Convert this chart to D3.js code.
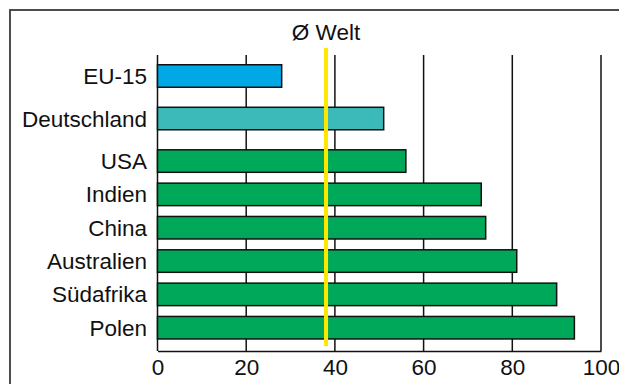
<!DOCTYPE html>
<html>
<head>
<meta charset="utf-8">
<script src="https://cdn.jsdelivr.net/npm/d3@7"></script>
<style>
  html, body { margin: 0; padding: 0; background: #fff; }
  svg { display: block; }
  text { font-family: "Liberation Sans", Arial, sans-serif; fill: #111; }
</style>
</head>
<body>
<svg id="chart" width="619" height="384"></svg>
<script>
// Categories, top to bottom
const categories = ["EU-15", "Deutschland", "USA", "Indien", "China", "Australien", "Südafrika", "Polen"];
// Bar values
const values = [28, 51, 56, 73, 74, 81, 90, 94];
// Group of each bar (drives the fill colour)
const groups = ["eu", "de", "other", "other", "other", "other", "other", "other"];
// World average reference line
const worldAverage = 38;
const worldLabel = "Ø Welt";
// Axis tick values
const ticks = [0, 20, 40, 60, 80, 100];

const colors = { eu: "#00a8e6", de: "#3cb9b9", other: "#00a859" };

const svg = d3.select("#chart");

// Outer frame (runs off the right and bottom edges)
svg.append("rect")
  .attr("x", 10).attr("y", 10)
  .attr("width", 620).attr("height", 390)
  .attr("fill", "none")
  .attr("stroke", "#3a3a3a")
  .attr("stroke-width", 1.8);

const x = d3.scaleLinear().domain([0, 100]).range([157.5, 601]);

// Vertical placement: regular step, with an extra gap after the first two rows
const step = 33.33, extraGap = 9.2, firstCenter = 76, barH = 22.5;
const y = d3.scaleOrdinal()
  .domain(categories)
  .range(categories.map((c, i) => firstCenter + i * step + extraGap * Math.min(i, 2)));

const plotTop = 55, plotBottom = 351;

// Grid lines
svg.append("g")
  .selectAll("line")
  .data(ticks)
  .join("line")
  .attr("x1", d => x(d)).attr("x2", d => x(d))
  .attr("y1", plotTop).attr("y2", plotBottom)
  .attr("stroke", "#111")
  .attr("stroke-width", 1.5);

// Bars
svg.append("g")
  .selectAll("rect")
  .data(categories)
  .join("rect")
  .attr("x", x(0))
  .attr("y", d => y(d) - barH / 2)
  .attr("width", (d, i) => x(values[i]) - x(0))
  .attr("height", barH)
  .attr("fill", (d, i) => colors[groups[i]])
  .attr("stroke", "#111")
  .attr("stroke-width", 1.5);

// Category labels
svg.append("g")
  .selectAll("text")
  .data(categories)
  .join("text")
  .attr("x", x(0) - 10.5)
  .attr("y", d => y(d))
  .attr("dy", "0.36em")
  .attr("text-anchor", "end")
  .attr("font-size", 22.5)
  .text(d => d);

// Bottom axis
const axis = d3.axisBottom(x).tickValues(ticks).tickSize(0).tickPadding(8);
const gx = svg.append("g")
  .attr("transform", `translate(0,${plotBottom})`)
  .call(axis);
gx.select(".domain").attr("stroke", "#111").attr("stroke-width", 1.5);
gx.selectAll("text")
  .attr("font-size", 22.5)
  .attr("font-family", "Liberation Sans, Arial, sans-serif")
  .attr("fill", "#111");

// World average line and label
svg.append("line")
  .attr("x1", x(worldAverage)).attr("x2", x(worldAverage))
  .attr("y1", 48).attr("y2", 346)
  .attr("stroke", "#ffe800")
  .attr("stroke-width", 4);

svg.append("text")
  .attr("x", x(worldAverage))
  .attr("y", 40)
  .attr("text-anchor", "middle")
  .attr("font-size", 22.5)
  .text(worldLabel);
</script>
</body>
</html>
